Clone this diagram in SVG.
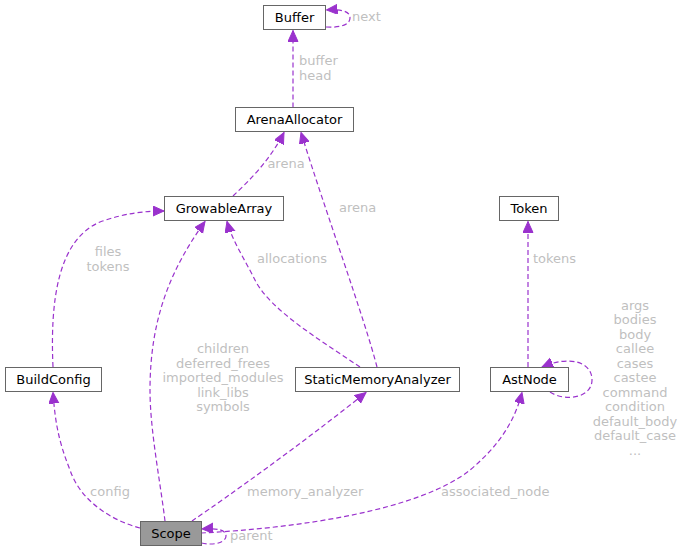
<svg xmlns="http://www.w3.org/2000/svg" width="683" height="553" viewBox="0 0 683 553">
<style>
  .box { fill: #ffffff; stroke: #666666; stroke-width: 1; }
  .nt { font-family: "DejaVu Sans", sans-serif; font-size: 13px; fill: #000000; text-anchor: middle; }
  .lb { font-family: "DejaVu Sans", sans-serif; font-size: 13px; fill: #bfbfbf; }
  .e { fill: none; stroke: #9a32cd; stroke-width: 1.2; stroke-dasharray: 5,3; marker-end: url(#ah); }
</style>
<defs>
  <marker id="ah" markerUnits="userSpaceOnUse" markerWidth="14" markerHeight="12" refX="11" refY="5" orient="auto">
    <path d="M0,0 L11,5 L0,10 Z" fill="#9a32cd" stroke="#9a32cd" stroke-width="1"/>
  </marker>
</defs>
<rect width="683" height="553" fill="#ffffff"/>
<g id="edges">
  <path class="e" d="M293,107.5 V30.5"/>
  <path class="e" d="M326,27 C342,28 350,24 350,18 C350,12 344,9 326.5,10"/>
  <path class="e" d="M233,196 C250,180 270,160 284,132.5"/>
  <path class="e" d="M377,367 C365,320 325,210 301,132.5"/>
  <path class="e" d="M53,367 C50,300 58,240 100,222 C125,213 145,211 164,211"/>
  <path class="e" d="M360,367 C320,340 270,310 255,280 C245,260 232,240 227,221.5"/>
  <path class="e" d="M165,521 C160,480 150,430 150,390 C150,320 170,270 205,221.5"/>
  <path class="e" d="M140,528 C110,520 80,500 70,470 C58,440 55,420 53,392.5"/>
  <path class="e" d="M192,521 C230,495 300,445 366,392.5"/>
  <path class="e" d="M201,533 C300,528 420,510 470,470 C500,445 515,420 522,392.5"/>
  <path class="e" d="M201.5,543 C215,546 226,542 226,536 C226,530 218,528 202,529"/>
  <path class="e" d="M528,367 V221.5"/>
  <path class="e" d="M550,392 C565,402 592,398 592,380 C592,362 570,355 542,367"/>
</g>
<g id="labels">
  <text class="lb" x="299" y="65">buffer</text>
  <text class="lb" x="299" y="79.5">head</text>
  <text class="lb" x="352" y="21">next</text>
  <text class="lb" x="286" y="168" text-anchor="middle">arena</text>
  <text class="lb" x="339" y="212">arena</text>
  <text class="lb" x="108" y="256" text-anchor="middle">files</text>
  <text class="lb" x="108" y="271" text-anchor="middle">tokens</text>
  <text class="lb" x="257" y="263">allocations</text>
  <text class="lb" x="533" y="263">tokens</text>
  <g text-anchor="middle">
    <text class="lb" x="223" y="353">children</text>
    <text class="lb" x="223" y="367.5">deferred_frees</text>
    <text class="lb" x="223" y="382">imported_modules</text>
    <text class="lb" x="223" y="396.5">link_libs</text>
    <text class="lb" x="223" y="411">symbols</text>
  </g>
  <g text-anchor="middle">
    <text class="lb" x="635" y="309.5">args</text>
    <text class="lb" x="635" y="324">bodies</text>
    <text class="lb" x="635" y="338.5">body</text>
    <text class="lb" x="635" y="353">callee</text>
    <text class="lb" x="635" y="367.5">cases</text>
    <text class="lb" x="635" y="382">castee</text>
    <text class="lb" x="635" y="396.5">command</text>
    <text class="lb" x="635" y="411">condition</text>
    <text class="lb" x="635" y="425.5">default_body</text>
    <text class="lb" x="635" y="440">default_case</text>
    <text class="lb" x="635" y="454.5">...</text>
  </g>
  <text class="lb" x="110" y="496" text-anchor="middle">config</text>
  <text class="lb" x="247" y="496">memory_analyzer</text>
  <text class="lb" x="441" y="496">associated_node</text>
  <text class="lb" x="230" y="540">parent</text>
</g>
<g id="node-Buffer">
  <rect class="box" x="263.5" y="5.5" width="62" height="24"/>
  <text class="nt" x="294.5" y="22">Buffer</text>
</g>
<g id="node-ArenaAllocator">
  <rect class="box" x="235.5" y="107.5" width="118" height="24"/>
  <text class="nt" x="294.5" y="124">ArenaAllocator</text>
</g>
<g id="node-GrowableArray">
  <rect class="box" x="164.5" y="196.5" width="119" height="24"/>
  <text class="nt" x="224" y="213">GrowableArray</text>
</g>
<g id="node-Token">
  <rect class="box" x="499.5" y="196.5" width="59" height="24"/>
  <text class="nt" x="529" y="213">Token</text>
</g>
<g id="node-BuildConfig">
  <rect class="box" x="5.5" y="367.5" width="96" height="24"/>
  <text class="nt" x="53.5" y="384">BuildConfig</text>
</g>
<g id="node-StaticMemoryAnalyzer">
  <rect class="box" x="295.5" y="367.5" width="164" height="24"/>
  <text class="nt" x="377.5" y="384">StaticMemoryAnalyzer</text>
</g>
<g id="node-AstNode">
  <rect class="box" x="490.5" y="367.5" width="78" height="24"/>
  <text class="nt" x="529.5" y="384">AstNode</text>
</g>
<g id="node-Scope">
  <rect class="box" x="140.5" y="521.5" width="61" height="24" style="fill:#999999"/>
  <text class="nt" x="171" y="538">Scope</text>
</g>
</svg>
